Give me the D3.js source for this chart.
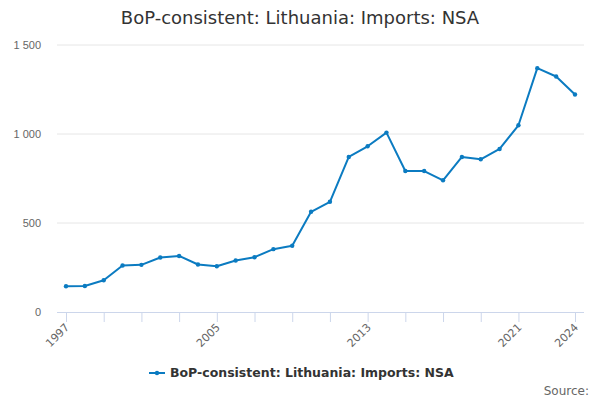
<!DOCTYPE html>
<html>
<head>
<meta charset="utf-8">
<script src="https://cdn.jsdelivr.net/npm/d3@7"></script>
<style>
  body { margin: 0; background: #fff; }
  svg { font-family: "DejaVu Sans", sans-serif; }
  .title { font-size: 18px; fill: #333; }
  .y-axis text, .x-axis text { font-size: 11px; fill: #666; }
  .legend-label { font-size: 12.5px; font-weight: bold; fill: #333; }
  .source { font-size: 12px; fill: #666; }
</style>
</head>
<body>
<div id="chart"></div>
<script>
const width = 600;
const height = 400;

const years = d3.range(1997, 2025);
const imports = [145, 146, 178, 261, 265, 306, 315, 267, 257, 289, 308, 353, 372,
                 563, 619, 871, 931, 1008, 792, 792, 740, 871, 858, 916, 1049, 1370, 1323, 1222];
const yTicks = [0, 500, 1000, 1500];
const xTicks = [1997, 1999, 2001, 2003, 2005, 2007, 2009, 2011, 2013, 2015, 2017, 2019, 2021, 2024];
const xLabels = [1997, 2005, 2013, 2021, 2024];
const seriesName = 'BoP-consistent: Lithuania: Imports: NSA';

const lineColor = '#0b7bc1';
const plot = {left: 57, right: 584, top: 45, bottom: 312};

const svg = d3.select('#chart').append('svg')
  .attr('width', width)
  .attr('height', height);

const x = d3.scaleLinear().domain([1997, 2024]).range([66, 575]);
const y = d3.scaleLinear().domain([0, 1500]).range([plot.bottom, plot.top]);

// Title
svg.append('text')
  .attr('class', 'title')
  .attr('x', width / 2)
  .attr('y', 24)
  .attr('text-anchor', 'middle')
  .text(seriesName);

// Gridlines
svg.append('g')
  .selectAll('line')
  .data(yTicks.slice(1))
  .join('line')
  .attr('x1', plot.left).attr('x2', plot.right)
  .attr('y1', d => y(d)).attr('y2', d => y(d))
  .attr('stroke', '#e6e6e6');

// Y axis labels
const yAxis = svg.append('g')
  .attr('class', 'y-axis')
  .attr('transform', translate(plot.left, 0))
  .call(d3.axisLeft(y).tickValues(yTicks).tickSize(0).tickPadding(16)
    .tickFormat(d => d3.format(',')(d).replace(/,/g, ' ')));
yAxis.select('.domain').remove();
yAxis.selectAll('text').attr('dy', '0.32em');

// X axis
const xAxis = svg.append('g')
  .attr('class', 'x-axis')
  .attr('transform', translate(0, plot.bottom))
  .call(d3.axisBottom(x).tickValues(xTicks).tickSize(10).tickFormat(''));
xAxis.select('.domain')
  .attr('d', 'M' + plot.left + ',0.5H' + plot.right)
  .attr('stroke', '#ccd6eb');
xAxis.selectAll('.tick line').attr('stroke', '#ccd6eb');

svg.append('g')
  .attr('class', 'x-axis')
  .selectAll('text')
  .data(xLabels)
  .join('text')
  .attr('text-anchor', 'end')
  .attr('transform', d => translate(x(d) + 4, plot.bottom + 16) + ' rotate(-45)')
  .text(d => d);

// Line
const line = d3.line()
  .x((d, i) => x(years[i]))
  .y(d => y(d));

svg.append('path')
  .datum(imports)
  .attr('fill', 'none')
  .attr('stroke', lineColor)
  .attr('stroke-width', 2)
  .attr('stroke-linejoin', 'round')
  .attr('d', line);

svg.append('g')
  .selectAll('circle')
  .data(imports)
  .join('circle')
  .attr('cx', (d, i) => x(years[i]))
  .attr('cy', d => y(d))
  .attr('r', 2.2)
  .attr('fill', lineColor);

// Legend
const legend = svg.append('g').attr('transform', translate(149, 373));
legend.append('line')
  .attr('x1', 0).attr('x2', 16)
  .attr('stroke', lineColor).attr('stroke-width', 2);
legend.append('circle')
  .attr('cx', 8).attr('r', 2.2).attr('fill', lineColor);
legend.append('text')
  .attr('class', 'legend-label')
  .attr('x', 21).attr('dy', '0.35em')
  .text(seriesName);

// Source
svg.append('text')
  .attr('class', 'source')
  .attr('x', 589).attr('y', 395)
  .attr('text-anchor', 'end')
  .text('Source:');

function translate(a, b) {
  return 'translate(' + a + ',' + b + ')';
}
</script>
</body>
</html>
